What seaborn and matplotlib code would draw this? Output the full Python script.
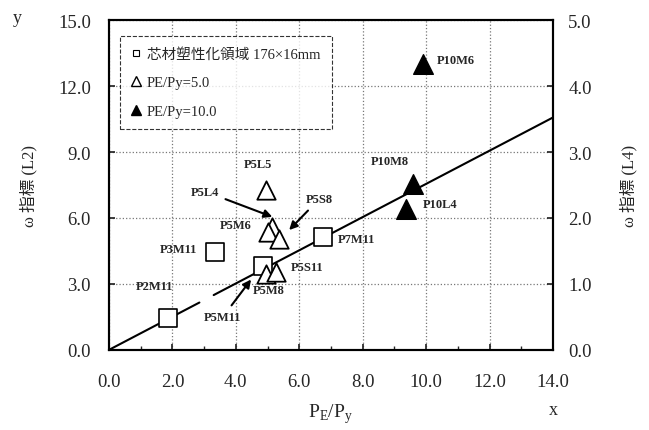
import numpy as np
import pandas as pd
import matplotlib
matplotlib.use("Agg")
import matplotlib.pyplot as plt
import seaborn as sns
from matplotlib.lines import Line2D
from matplotlib.ticker import FormatStrFormatter, MultipleLocator

# data
sq_names = ["P2M11", "P3M11", "P5M11", "P7M11"]
sq_x = [1.85, 3.35, 4.85, 6.75]
sq_y = [1.45, 4.45, 3.8, 5.15]

tri5_names = ["P5L5", "P5L4", "P5M6", "P5S8", "P5M8", "P5S11"]
tri5_x = [4.95, 5.15, 5.0, 5.37, 4.95, 5.26]
tri5_y = [7.25, 5.6, 5.35, 5.05, 3.45, 3.52]

tri10_names = ["P10M6", "P10M8", "P10L4"]
tri10_x = [9.9, 9.6, 9.35]
tri10_y = [13.0, 7.55, 6.4]

# fitted line y = 0.755 x (drawn with a small break like the original)
line_x = [0.0, 2.85, np.nan, 3.3, 14.0]
line_slope = 0.755

legend_labels = ["芯材塑性化領域 176×16mm", "PE/Py=5.0", "PE/Py=10.0"]
x_ticks = [0, 2, 4, 6, 8, 10, 12, 14]

# label placement (data coords) -- text only
label_pos = {
    "P2M11": (1.44, 2.9), "P3M11": (2.18, 4.6), "P5M11": (3.59, 1.5),
    "P7M11": (7.8, 5.05), "P5L5": (4.69, 8.45), "P5L4": (3.04, 7.2),
    "P5M6": (3.99, 5.68), "P5S8": (6.62, 6.85), "P5M8": (5.03, 2.7),
    "P5S11": (6.26, 3.78), "P10M6": (10.95, 13.2), "P10M8": (8.87, 8.6),
    "P10L4": (10.45, 6.65),
}
arrow_heads = {"P5L4": (5.15, 6.05), "P5S8": (5.68, 5.45), "P5M11": (4.48, 3.2)}

sns.set_theme(style="white")
plt.rcParams["font.family"] = ["Liberation Serif", "Noto Sans CJK JP"]

fig = plt.figure(figsize=(6.49, 4.31), dpi=100)
ax = fig.add_axes([0.168, 0.186, 0.684, 0.765])

df_line = pd.DataFrame({"x": line_x})
df_line["y"] = df_line["x"] * line_slope
ax.plot(df_line["x"], df_line["y"], color="black", lw=1.5, zorder=2)

sns.scatterplot(x=sq_x, y=sq_y, marker="s", s=160, facecolor="white",
                edgecolor="black", linewidth=1.2, ax=ax, zorder=3)
sns.scatterplot(x=tri5_x, y=tri5_y, marker="^", s=175, facecolor="white",
                edgecolor="black", linewidth=1.3, ax=ax, zorder=3)
sns.scatterplot(x=tri10_x, y=tri10_y, marker="^", s=200, facecolor="black",
                edgecolor="black", linewidth=1.0, ax=ax, zorder=4)

for name in sq_names + tri5_names + tri10_names:
    tx, ty = label_pos[name]
    if name in arrow_heads:
        ax.annotate(name, xy=arrow_heads[name], xytext=(tx, ty), ha="center",
                    va="center", fontsize=9, fontweight="bold",
                    arrowprops=dict(arrowstyle="-|>", color="black", lw=1.5,
                                    shrinkA=2, shrinkB=0, mutation_scale=12),
                    zorder=5)
    else:
        ax.text(tx, ty, name, ha="center", va="center", fontsize=9,
                fontweight="bold", zorder=5)

ax.set_xlim(0, 14)
ax.set_ylim(0, 15)
ax.set_xticks(x_ticks)
ax.set_yticks(np.arange(0, 15.1, 3))
ax.xaxis.set_minor_locator(MultipleLocator(1))
ax.xaxis.set_major_formatter(FormatStrFormatter("%.1f"))
ax.yaxis.set_major_formatter(FormatStrFormatter("%.1f"))
ax.grid(True, which="major", ls=":", color="#777777", lw=0.9)
ax.tick_params(axis="x", which="major", direction="in", length=4,
               labelsize=13.5, pad=17, bottom=True)
ax.tick_params(axis="y", which="major", direction="in", length=4,
               labelsize=13.5, pad=13, left=True)
ax.tick_params(axis="x", which="minor", direction="in", length=3, bottom=True)
for sp in ax.spines.values():
    sp.set_color("black")
    sp.set_linewidth(1.5)

ax2 = ax.twinx()
ax2.set_ylim(0, 5)
ax2.set_yticks(np.arange(0, 5.1, 1))
ax2.yaxis.set_major_formatter(FormatStrFormatter("%.1f"))
ax2.tick_params(axis="y", direction="in", length=4, labelsize=13.5, pad=11, right=True)
for sp in ax2.spines.values():
    sp.set_color("black")
    sp.set_linewidth(1.5)

ax.set_ylabel("ω 指標 (L2)", fontsize=12, labelpad=15)
ax2.set_ylabel("ω 指標 (L4)", fontsize=12, labelpad=20)
ax.set_xlabel(r"P$_\mathregular{E}$/P$_\mathregular{y}$", fontsize=14, labelpad=8)
fig.text(0.026, 0.958, "y", fontsize=13, ha="center", va="center")
fig.text(0.852, 0.048, "x", fontsize=13, ha="center", va="center")

handles = [
    Line2D([], [], marker="s", ls="", markersize=4.5, markerfacecolor="white",
           markeredgecolor="black", markeredgewidth=0.8),
    Line2D([], [], marker="^", ls="", markersize=6.5, markerfacecolor="white",
           markeredgecolor="black", markeredgewidth=1.0),
    Line2D([], [], marker="^", ls="", markersize=6.5, markerfacecolor="black",
           markeredgecolor="black"),
]
leg = ax.legend(handles, legend_labels, loc="upper left",
                bbox_to_anchor=(0.025, 0.952), borderaxespad=0, fontsize=10.5,
                labelspacing=1.05, handlelength=0.7, handletextpad=0.4,
                frameon=True, fancybox=False, borderpad=0.75)
leg.get_frame().set_edgecolor("black")
leg.get_frame().set_linestyle("--")
leg.get_frame().set_linewidth(0.8)

fig.savefig("out.png", dpi=100)
